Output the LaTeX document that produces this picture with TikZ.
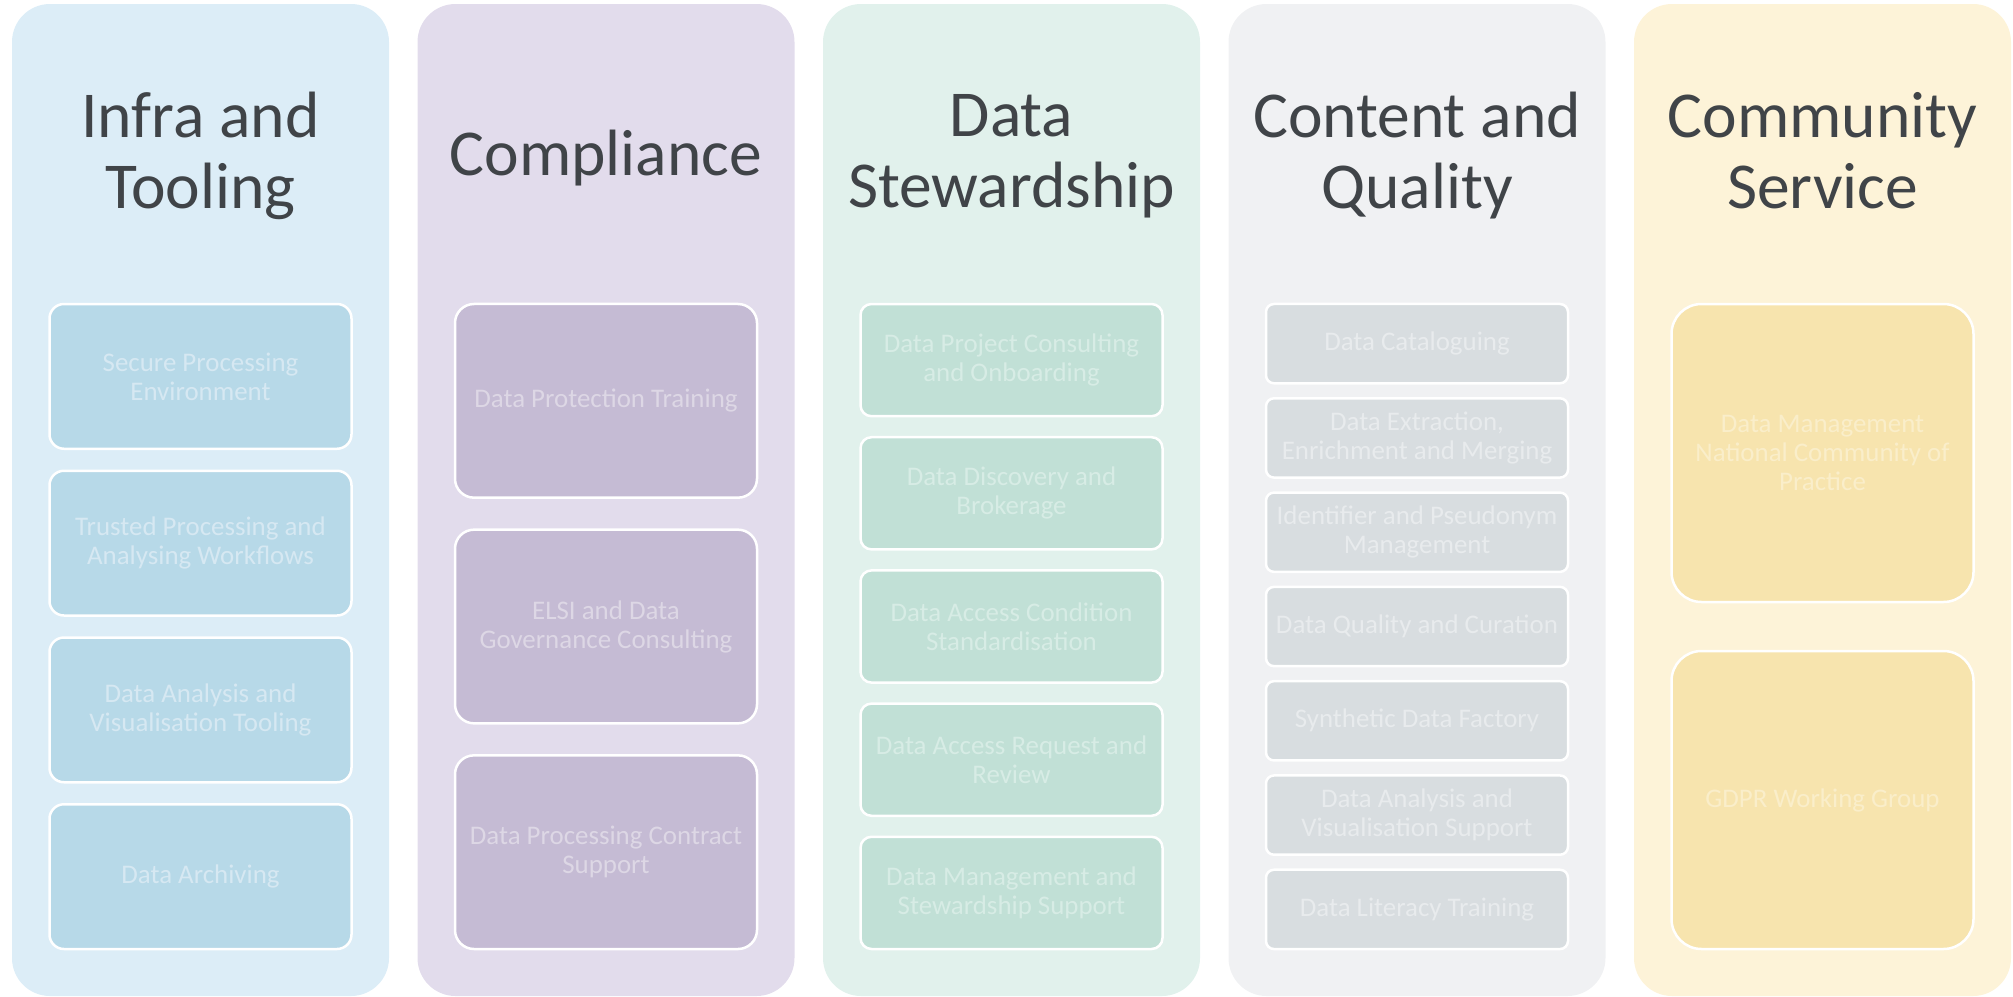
\documentclass[tikz,border=0pt]{standalone}
\usepackage{fontspec}
\setmainfont{Carlito}
\definecolor{bgA}{RGB}{220,237,247}
\definecolor{bxA}{RGB}{183,217,232}
\definecolor{txA}{RGB}{214,232,242}
\definecolor{bgB}{RGB}{226,220,236}
\definecolor{bxB}{RGB}{197,187,212}
\definecolor{txB}{RGB}{221,215,229}
\definecolor{bgC}{RGB}{225,241,236}
\definecolor{bxC}{RGB}{193,224,214}
\definecolor{txC}{RGB}{215,236,229}
\definecolor{bgD}{RGB}{240,241,243}
\definecolor{bxD}{RGB}{216,221,224}
\definecolor{txD}{RGB}{232,235,237}
\definecolor{bgE}{RGB}{253,243,216}
\definecolor{bxE}{RGB}{247,228,174}
\definecolor{txE}{RGB}{250,238,202}
\definecolor{ttlgray}{RGB}{64,68,72}
\begin{document}
\begin{tikzpicture}[x=1pt,y=-1pt,
  colbg/.style={rounded corners=38pt, minimum width=377pt, minimum height=992pt, inner sep=0pt},
  sbox/.style={draw=white, line width=2.5pt, minimum width=302pt, inner sep=2pt, align=center,
    font=\fontsize{26.9}{29}\selectfont},
  ttl/.style={anchor=base, text=ttlgray, inner sep=0pt, font=\fontsize{65.5}{71}\selectfont}]
\useasboundingbox (0,0) rectangle (2013,996);
% columns
\node[colbg, fill=bgA] (colA) at (200.5,500) {};
\node[colbg, fill=bgB] (colB) at (606,500) {};
\node[colbg, fill=bgC] (colC) at (1011.5,500) {};
\node[colbg, fill=bgD] (colD) at (1417,500) {};
\node[colbg, fill=bgE] (colE) at (1822.5,500) {};
% titles
\node[ttl] (tA) at (200.5,137) {\begin{tabular}[t]{@{}c@{}}Infra and\\Tooling\end{tabular}};
\node[ttl] (tB) at (606,175) {Compliance};
\node[ttl] (tC) at (1011.5,136) {\begin{tabular}[t]{@{}c@{}}Data\\Stewardship\end{tabular}};
\node[ttl] (tD) at (1417,137) {\begin{tabular}[t]{@{}c@{}}Content and\\Quality\end{tabular}};
\node[ttl] (tE) at (1822.5,137) {\begin{tabular}[t]{@{}c@{}}Community\\Service\end{tabular}};
% column A
\foreach \t [count=\i from 0] in {{Secure Processing\\Environment},{Trusted Processing and\\Analysing Workflows},{Data Analysis and\\Visualisation Tooling},{Data Archiving}}
  \node[sbox, fill=bxA, text=txA, minimum height=144.75pt, rounded corners=14.5pt] (a\i) at (200.5,{376.375+\i*166.75}) {\t};
% column B
\foreach \t [count=\i from 0] in {{Data Protection Training},{ELSI and Data\\Governance Consulting},{Data Processing Contract\\Support}}
  \node[sbox, fill=bxB, text=txB, minimum height=193.67pt, rounded corners=19pt] (b\i) at (606,{400.83+\i*225.67}) {\t};
% column C
\foreach \t [count=\i from 0] in {{Data Project Consulting\\and Onboarding},{Data Discovery and\\Brokerage},{Data Access Condition\\Standardisation},{Data Access Request and\\Review},{Data Management and\\Stewardship Support}}
  \node[sbox, fill=bxC, text=txC, minimum height=112.2pt, rounded corners=11pt] (c\i) at (1011.5,{360.1+\i*133.2}) {\t};
% column D
\foreach \t [count=\i from 0] in {{Data Cataloguing},{Data Extraction,\\Enrichment and Merging},{Identifier and Pseudonym\\Management},{Data Quality and Curation},{Synthetic Data Factory},{Data Analysis and\\Visualisation Support},{Data Literacy Training}}
  \node[sbox, fill=bxD, text=txD, minimum height=79.29pt, rounded corners=8pt] (d\i) at (1417,{343.64+\i*94.29}) {\t};
% column E
\foreach \t [count=\i from 0] in {{Data Management\\National Community of\\Practice},{GDPR Working Group}}
  \node[sbox, fill=bxE, text=txE, minimum height=298pt, rounded corners=30pt] (e\i) at (1822.5,{453+\i*347}) {\t};
\end{tikzpicture}
\end{document}
